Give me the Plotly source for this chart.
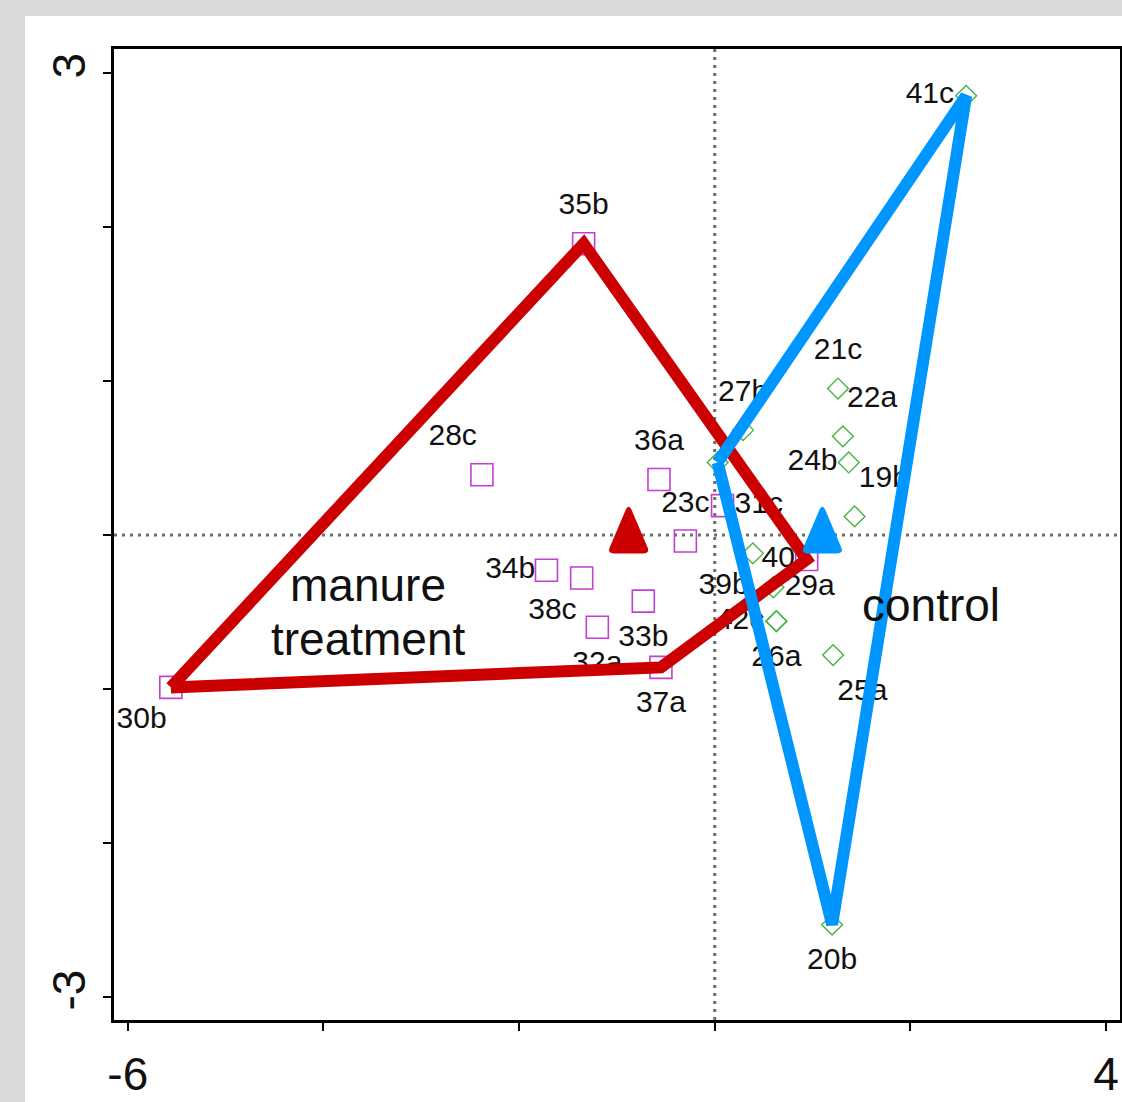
import plotly.graph_objects as go

# Ordination scores of the manure-treated samples (drawn as squares)
manure_labels = ["30b", "35b", "28c", "36a", "23c", "31c", "34b", "38c", "33b", "32a", "37a", "40"]
manure_x = [-5.56, -1.34, -2.38, -0.57, -0.30, 0.08, -1.72, -1.36, -0.73, -1.20, -0.55, 0.94]
manure_y = [-0.99, 1.89, 0.39, 0.36, -0.04, 0.19, -0.23, -0.28, -0.43, -0.60, -0.86, -0.16]
manure_label_side = ["SW", "N", "NW", "N", "N", "E", "W", "SW", "S", "S", "S", "W"]

# Ordination scores of the control samples (drawn as diamonds)
control_labels = ["41c", "21c", "22a", "24b", "19b", "27b", "", "39b", "29a", "42c", "26a", "25a", "20b"]
control_x = [2.57, 1.26, 1.31, 1.37, 1.43, 0.29, 0.03, 0.39, 0.60, 0.63, 0.63, 1.21, 1.20]
control_y = [2.85, 0.95, 0.64, 0.47, 0.12, 0.68, 0.47, -0.12, -0.34, -0.56, -0.56, -0.78, -2.53]
control_label_side = ["W", "N", "NE", "W", "NE", "N", "", "SW", "E", "W", "S", "SE", "S"]

# Group centroids (manure, control)
centroid_x = [-0.88, 1.10]
centroid_y = [-0.01, -0.01]

# Axis ticks
x_tickvals = [-6, -4, -2, 0, 2, 4]
x_ticktext = ["-6", "", "", "", "", "4"]
y_tickvals = [-3, -2, -1, 0, 1, 2, 3]
y_ticktext = ["-3", "", "", "", "", "", "3"]

# ---- figure geometry ----
W, H = 1122, 1102
M_L, M_R, M_T, M_B = 114, 2, 49, 82
X_RANGE = [-6.141, 4.143]
Y_RANGE = [-3.149, 3.154]
PX_X = (W - M_L - M_R) / (X_RANGE[1] - X_RANGE[0])
PX_Y = (H - M_T - M_B) / (Y_RANGE[1] - Y_RANGE[0])

MANURE_RED = "#cc0000"
CONTROL_BLUE = "#0096ff"
SQUARE_COL = "#c040d0"
DIAMOND_COL = "#44b444"

FONT = "Liberation Sans, Arial, Helvetica, sans-serif"
LABEL_SIZE = 30
CHAR_W = 15.5


def label_shift(side, text):
    """Pixel offset (right, up) of a sample label from its point."""
    half = len(text) * CHAR_W / 2
    dy = 37
    return {
        "N": (0, dy), "S": (0, -dy),
        "E": (half + 13, 0), "W": (-(half + 13), 0),
        "NE": (half + 6, dy), "NW": (-(half + 6), dy),
        "SE": (half + 6, -dy), "SW": (-(half + 6), -dy + 4),
    }.get(side, (0, 0))


def label_positions(xs, ys, texts, sides):
    lx, ly = [], []
    for x, y, t, s in zip(xs, ys, texts, sides):
        dx, dy = label_shift(s, t)
        lx.append(x + dx / PX_X)
        ly.append(y + dy / PX_Y)
    return lx, ly


def convex_hull(xs, ys):
    pts = sorted(set(zip(xs, ys)))

    def cross(o, a, b):
        return (a[0] - o[0]) * (b[1] - o[1]) - (a[1] - o[1]) * (b[0] - o[0])

    lower, upper = [], []
    for p in pts:
        while len(lower) >= 2 and cross(lower[-2], lower[-1], p) <= 0:
            lower.pop()
        lower.append(p)
    for p in reversed(pts):
        while len(upper) >= 2 and cross(upper[-2], upper[-1], p) <= 0:
            upper.pop()
        upper.append(p)
    hull = lower[:-1] + upper[:-1]
    hull.append(hull[0])
    return [p[0] for p in hull], [p[1] for p in hull]


def rounded_polygon_path(corners, r):
    """SVG path (pixel units, y up) of a polygon with rounded corners."""
    n = len(corners)

    def toward(a, b, d):
        vx, vy = b[0] - a[0], b[1] - a[1]
        length = (vx * vx + vy * vy) ** 0.5
        return (a[0] + vx / length * d, a[1] + vy / length * d)

    parts = []
    for i in range(n):
        p, prev, nxt = corners[i], corners[i - 1], corners[(i + 1) % n]
        a = toward(p, prev, r)
        b = toward(p, nxt, r)
        parts.append(("L" if i else "M") + f"{a[0]:.2f},{a[1]:.2f} Q{p[0]:.2f},{p[1]:.2f} {b[0]:.2f},{b[1]:.2f}")
    return " ".join(parts) + " Z"


fig = go.Figure()

# sample points
fig.add_trace(go.Scatter(
    x=manure_x, y=manure_y, mode="markers", name="manure treatment",
    marker=dict(symbol="square-open", size=22, color=SQUARE_COL, line=dict(width=1.6, color=SQUARE_COL)),
    hovertext=manure_labels, hoverinfo="text", showlegend=False,
))
fig.add_trace(go.Scatter(
    x=control_x, y=control_y, mode="markers", name="control",
    marker=dict(symbol="diamond-open", size=16, color=DIAMOND_COL, line=dict(width=1.4, color=DIAMOND_COL)),
    hovertext=control_labels, hoverinfo="text", showlegend=False,
))

# sample labels
for xs, ys, texts, sides in [
    (manure_x, manure_y, manure_labels, manure_label_side),
    (control_x, control_y, control_labels, control_label_side),
]:
    lx, ly = label_positions(xs, ys, texts, sides)
    fig.add_trace(go.Scatter(
        x=lx, y=ly, mode="text", text=texts, textposition="middle center",
        textfont=dict(family=FONT, size=LABEL_SIZE, color="#111111"),
        hoverinfo="skip", showlegend=False, cliponaxis=False,
    ))

# convex hulls of the two groups
for xs, ys, col in [(manure_x, manure_y, MANURE_RED), (control_x, control_y, CONTROL_BLUE)]:
    hx, hy = convex_hull(xs, ys)
    fig.add_trace(go.Scatter(
        x=hx, y=hy, mode="lines", line=dict(color=col, width=12),
        hoverinfo="skip", showlegend=False,
    ))

shapes = [
    # white panel behind the plot
    dict(type="rect", xref="paper", yref="paper", layer="below",
         x0=(25 - M_L) / (W - M_L - M_R), x1=1.2, y0=-0.2, y1=(H - M_B - 16) / (H - M_T - M_B),
         fillcolor="white", line=dict(width=0)),
    # dotted reference lines through the origin
    dict(type="line", xref="x", yref="y domain", x0=0, x1=0, y0=0, y1=1, layer="below",
         line=dict(color="#6e6e6e", width=3, dash="3px,5px")),
    dict(type="line", xref="x domain", yref="y", x0=0, x1=1, y0=0, y1=0, layer="below",
         line=dict(color="#6e6e6e", width=3, dash="3px,5px")),
]

# centroid triangles
tri = rounded_polygon_path([(0, 31), (20, -16), (-20, -16)], 5)
for cx, cy, col in zip(centroid_x, centroid_y, [MANURE_RED, CONTROL_BLUE]):
    shapes.append(dict(type="path", xref="x", yref="y", xsizemode="pixel", ysizemode="pixel",
                       xanchor=cx, yanchor=cy, path=tri, fillcolor=col,
                       line=dict(color=col, width=2), layer="above"))

annotations = [
    dict(x=-3.544, y=-0.325, text="manure", showarrow=False, xref="x", yref="y",
         font=dict(family=FONT, size=46, color="#111111")),
    dict(x=-3.544, y=-0.675, text="treatment", showarrow=False, xref="x", yref="y",
         font=dict(family=FONT, size=46, color="#111111")),
    dict(x=2.211, y=-0.454, text="control", showarrow=False, xref="x", yref="y",
         font=dict(family=FONT, size=46, color="#111111")),
]

axis_common = dict(
    showgrid=False, zeroline=False, showline=True, linecolor="black", linewidth=2.5, mirror=True,
    ticks="outside", ticklen=8, tickwidth=2, tickcolor="black", automargin=False,
    tickfont=dict(family=FONT, size=46, color="#111111"),
)

fig.update_layout(
    width=W, height=H,
    margin=dict(l=M_L, r=M_R, t=M_T, b=M_B, pad=0, autoexpand=False),
    paper_bgcolor="#d9d9d9", plot_bgcolor="white",
    shapes=shapes, annotations=annotations,
    xaxis=dict(range=X_RANGE, tickmode="array", tickvals=x_tickvals, ticktext=x_ticktext,
               ticklabelstandoff=4, **axis_common),
    yaxis=dict(range=Y_RANGE, tickmode="array", tickvals=y_tickvals, ticktext=y_ticktext,
               tickangle=-90, ticklabelstandoff=0, **axis_common),
)

fig.write_html("out.html")
